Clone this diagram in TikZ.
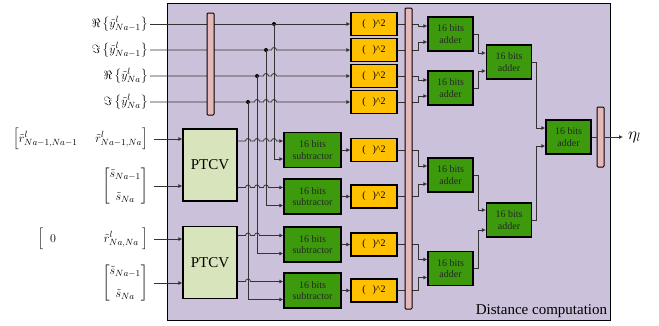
\documentclass[tikz,border=0pt]{standalone}
\usepackage{amsmath}
\usepackage{fontspec}
\setmainfont{Liberation Serif}
\usetikzlibrary{arrows.meta,positioning,calc}
\definecolor{dcback}{HTML}{CCC1DA}
\definecolor{sqfill}{HTML}{FFC000}
\definecolor{addfill}{HTML}{3C9A0C}
\definecolor{ptfill}{HTML}{D8E4BC}
\definecolor{regfill}{HTML}{E6B9B8}
\definecolor{wirec}{HTML}{333333}
\tikzset{
  sqbox/.style ={draw=black,line width=1.2pt,fill=sqfill,minimum width=46pt,
                 minimum height=23pt,inner sep=0pt,font=\fontsize{10}{11}\selectfont},
  addbox/.style={draw=black,line width=1.2pt,fill=addfill,minimum width=45pt,
                 minimum height=34pt,inner sep=0pt,align=center,text=black!85,
                 font=\fontsize{10}{11.5}\selectfont},
  subbox/.style={addbox,minimum width=57pt,minimum height=35pt},
  ptcv/.style  ={draw=black,line width=1.2pt,fill=ptfill,minimum width=54pt,
                 minimum height=72pt,font=\fontsize{15}{17}\selectfont},
  regbar/.style={draw=black,line width=1pt,fill=regfill,rounded corners=1pt,
                 minimum width=7pt,inner sep=0pt},
  wire/.style  ={line width=0.8pt,draw=wirec},
  arr/.style   ={wire,-{Latex[length=4pt,width=4pt]}},
  lbl/.style   ={anchor=east,inner sep=0pt,font=\fontsize{13}{15}\selectfont},
  jdot/.style  ={circle,fill=black,inner sep=0pt,minimum size=4pt}
}

\begin{document}
\begin{tikzpicture}[x=1pt,y=-1pt]
  \useasboundingbox (0,0) rectangle (659,325);
  % distance computation block
  \node[draw=black,line width=1.3pt,fill=dcback,minimum width=443pt,
        minimum height=317pt,anchor=north west,inner sep=0pt] (dc) at (167,3) {};
  \node[anchor=south east,inner sep=1pt,font=\fontsize{15}{17}\selectfont]
    (dclab) at ([xshift=-3pt,yshift=2pt]dc.south east) {Distance computation};

  % inputs
  \node[lbl] (y1) at (148,24)  {$\Re\left\{\tilde{y}^{l}_{Na-1}\right\}$};
  \node[lbl] (y2) at (148,50)  {$\Im\left\{\tilde{y}^{l}_{Na-1}\right\}$};
  \node[lbl] (y3) at (148,76)  {$\Re\left\{\tilde{y}^{l}_{Na}\right\}$};
  \node[lbl] (y4) at (148,102) {$\Im\left\{\tilde{y}^{l}_{Na}\right\}$};
  \node[lbl] (r1) at (148,139)
    {$\left[\tilde{r}^{l}_{Na-1,Na-1}\hspace{18pt}\tilde{r}^{l}_{Na-1,Na}\right]$};
  \node[lbl] (s1) at (148,186)
    {$\begin{bmatrix}\tilde{s}_{Na-1}\\[8pt]\tilde{s}_{Na}\end{bmatrix}$};
  \node[lbl] (r2) at (148,239)
    {$\left[\;\;0\hspace{48pt}\tilde{r}^{l}_{Na,Na}\;\right]$};
  \node[lbl] (s2) at (148,283)
    {$\begin{bmatrix}\tilde{s}_{Na-1}\\[8pt]\tilde{s}_{Na}\end{bmatrix}$};

  % blocks
  \node[ptcv] (p1) at (210,165)   {PTCV};
  \node[ptcv] (p2) at (210,262.5) {PTCV};
  \foreach \i/\y in {1/150,2/196.5,3/244.5,4/290.5}
    \node[subbox] (sub\i) at (312.5,\y) {16 bits\\subtractor};
  \foreach \i/\y in {1/24,2/50,3/76,4/102,5/150,6/196.5,7/244.5,8/290.5}
    \node[sqbox] (q\i) at (374,\y) {(\hspace{7pt})\textasciicircum 2};
  \foreach \n/\x/\y in {a1/450.5/34,a2/450.5/88,a3/450.5/175,a4/450.5/268.5,
                        b1/509/62,b2/509/220,fin/568.5/137}
    \node[addbox] (\n) at (\x,\y) {16 bits\\adder};
  \node[anchor=west,inner sep=0pt,font=\fontsize{18}{20}\selectfont] (eta) at (628,137) {$\eta_l$};

  % subtractor inputs
  \foreach \i in {1,...,4} {
    \coordinate (u\i) at ([yshift=9pt]sub\i.west);
    \coordinate (l\i) at ([yshift=-9pt]sub\i.west);
  }

  % junctions of the y inputs
  \node[jdot] (j1) at (274,24)  {};
  \node[jdot] (j2) at (266,50)  {};
  \node[jdot] (j3) at (257,76)  {};
  \node[jdot] (j4) at (248,102) {};
  \draw[arr] (j1.center) |- (l1);
  \draw[arr] (j2.center) |- (l2);
  \draw[arr] (j3.center) |- (l3);
  \draw[arr] (j4.center) |- (l4);

  % y rows, hopping over the verticals
  \draw[arr] ([xshift=2pt]y1.east) -- (q1.west);
  \draw[arr] ([xshift=2pt]y2.east) \foreach \x in {274}
    {-- (\x-2.5,50) arc[start angle=180,end angle=0,radius=2.5pt]} -- (q2.west);
  \draw[arr] ([xshift=2pt]y3.east) \foreach \x in {266,274}
    {-- (\x-2.5,76) arc[start angle=180,end angle=0,radius=2.5pt]} -- (q3.west);
  \draw[arr] ([xshift=2pt]y4.east) \foreach \x in {257,266,274}
    {-- (\x-2.5,102) arc[start angle=180,end angle=0,radius=2.5pt]} -- (q4.west);

  % PTCV in and out
  \draw[arr] ([xshift=6pt]r1.east) -- (p1.west |- r1.east);
  \draw[arr] ([xshift=6pt]s1.east) -- (p1.west |- s1.east);
  \draw[arr] ([xshift=6pt]r2.east) -- (p2.west |- r2.east);
  \draw[arr] ([xshift=6pt]s2.east) -- (p2.west |- s2.east);
  \draw[arr] (p1.east |- u1) \foreach \x in {248,257,266,274}
    {-- (\x-2.5,0 |- u1) arc[start angle=180,end angle=0,radius=2.5pt]} -- (u1);
  \draw[arr] (p1.east |- u2) \foreach \x in {248,257,266}
    {-- (\x-2.5,0 |- u2) arc[start angle=180,end angle=0,radius=2.5pt]} -- (u2);
  \draw[arr] (p2.east |- u3) \foreach \x in {248,257}
    {-- (\x-2.5,0 |- u3) arc[start angle=180,end angle=0,radius=2.5pt]} -- (u3);
  \draw[arr] (p2.east |- u4) \foreach \x in {248}
    {-- (\x-2.5,0 |- u4) arc[start angle=180,end angle=0,radius=2.5pt]} -- (u4);

  % squares
  \foreach \i [evaluate=\i as \k using int(\i+4)] in {1,...,4}
    \draw[arr] (sub\i.east) -- (q\k.west);

  % adder tree
  \foreach \i/\a/\s in {1/a1/8,2/a1/-8,3/a2/8,4/a2/-8,5/a3/9,6/a3/-9,7/a4/9,8/a4/-9}
    \draw[arr] (q\i.east) -- ++(21,0) |- ([yshift=\s pt]\a.west);
  \foreach \a/\b/\s in {a1/b1/9,a2/b1/-9,a3/b2/10,a4/b2/-10,b1/fin/9,b2/fin/-9}
    \draw[arr] (\a.east) -- ++(4.5,0) |- ([yshift=\s pt]\b.west);

  % registers
  \node[regbar,minimum height=102pt] (bar1) at (210.5,64) {};
  \node[regbar,minimum height=301pt] (bar2) at (408.5,158.5) {};
  \node[regbar,minimum height=60pt]  (bar3) at (600.5,137) {};
  \draw[wire] (fin.east) -- (bar3.west);
  \draw[arr] (bar3.east) -- ([xshift=-5pt]eta.west);
\end{tikzpicture}
\end{document}
